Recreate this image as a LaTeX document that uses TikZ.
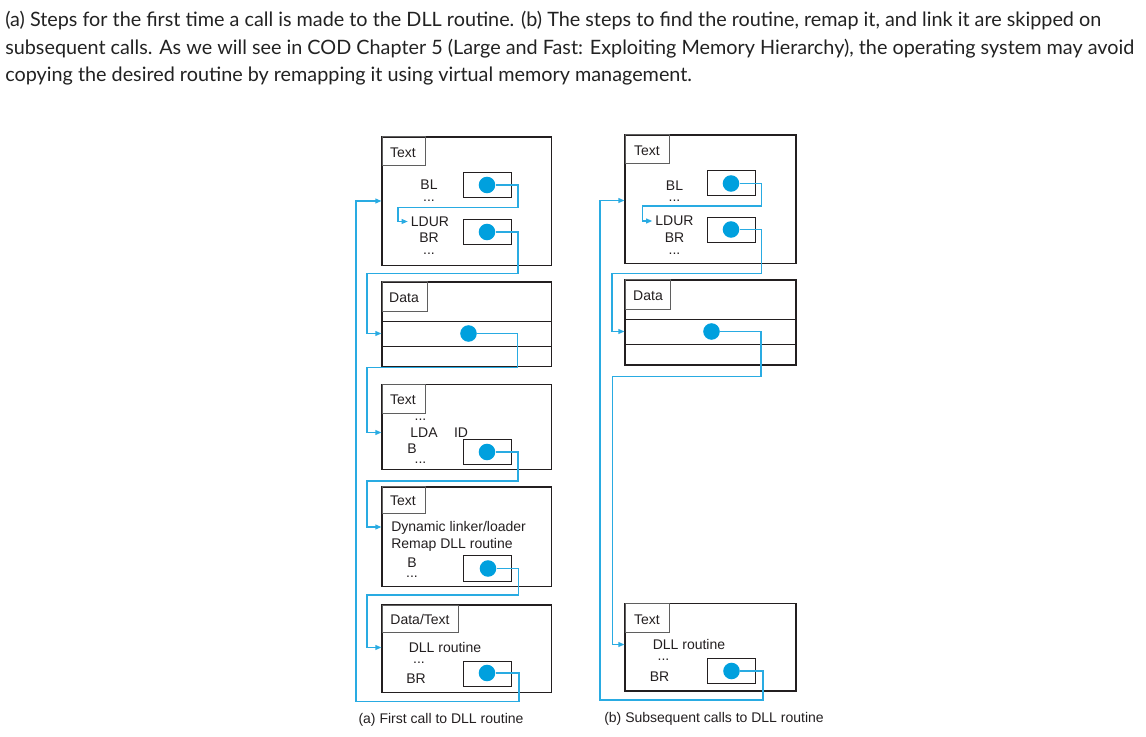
\documentclass[tikz,border=0pt]{standalone}
\usepackage{fontspec}
\setmainfont{Liberation Sans}
\newfontfamily\capfont{Lato}
\usetikzlibrary{arrows.meta,fit}
\definecolor{wireblue}{RGB}{41,171,226}
\definecolor{dotblue}{RGB}{0,160,222}
\definecolor{lblgray}{RGB}{95,95,95}
\definecolor{boxblack}{RGB}{35,31,32}
\definecolor{captext}{RGB}{34,34,34}
\begin{document}
\begin{tikzpicture}[x=0.75pt,y=-0.75pt,
  mainbox/.style={draw=boxblack, line width=0.85pt, inner sep=0pt},
  lblbox/.style={draw=lblgray, line width=0.75pt, inner sep=0pt},
  smallbox/.style={draw=boxblack, line width=0.75pt, inner sep=0pt},
  seprule/.style={draw=boxblack, line width=0.85pt},
  bluedot/.style={circle, fill=dotblue, minimum size=12.4pt, inner sep=0pt},
  ctext/.style={font=\fontsize{10.5}{12}\selectfont, inner sep=0pt, text height=7.5pt, text depth=0pt, text=boxblack},
  dtext/.style={font=\fontsize{10.5}{12}\selectfont, inner sep=0pt, anchor=base, text height=1.5pt, text depth=0pt, text=boxblack},
  wire/.style={draw=wireblue, line width=0.9pt},
  arr/.style={wire, -{Triangle[length=4.5pt,width=3.6pt]}},
  subcap/.style={font=\fontsize{10.5}{12}\selectfont, inner sep=0pt, text height=7.5pt, text depth=2pt, text=boxblack},
  topcap/.style={font=\capfont\fontsize{14.85}{17}\selectfont, inner sep=0pt, anchor=base west, text=captext}
]
\useasboundingbox (0,0) rectangle (1146,737);

% ---------- top caption ----------
\node[topcap] (c1) at (5,27) {(a) Steps for the first time a call is made to the DLL routine. (b) The steps to find the routine, remap it, and link it are skipped on};
\node[topcap] (c2) at (5,55) {subsequent calls. As we will see in COD Chapter 5 (Large and Fast: Exploiting Memory Hierarchy), the operating system may avoid};
\node[topcap] (c3) at (5,82) {copying the desired routine by remapping it using virtual memory management.};

% ================= LEFT (a) =================
\node[mainbox, fit={(382,137) (551.5,265.5)}] (aT1) {};
\node[lblbox, fit={(382,137) (425,166)}] (aT1l) {};
\node[ctext] (aT1t) at (403,152.5) {Text};
\node[ctext] (aBL) at (429,185) {BL};
\node[dtext] (aT1d1) at (429,202) {...};
\node[ctext] (aLDUR) at (430,221.5) {LDUR};
\node[ctext] (aBR) at (429,238) {BR};
\node[dtext] (aT1d2) at (429,255) {...};
\node[smallbox, fit={(463,172.5) (511,198)}] (aS1) {};
\node[bluedot] (aP1) at (487,185) {};
\node[smallbox, fit={(463,219.5) (511,245)}] (aS2) {};
\node[bluedot] (aP2) at (487,232) {};

\node[mainbox, fit={(382,282) (551.5,366.5)}] (aD) {};
\node[lblbox, fit={(382,282) (427,312)}] (aDl) {};
\node[ctext] (aDt) at (404,297.5) {Data};
\draw[seprule] (aD.west |- 0,321.7) -- (aD.east |- 0,321.7);
\draw[seprule] (aD.west |- 0,346.7) -- (aD.east |- 0,346.7);
\node[bluedot] (aP3) at (468.5,333.5) {};

\node[mainbox, fit={(382,384.5) (551.5,469.5)}] (aT2) {};
\node[lblbox, fit={(382,384.5) (425,414)}] (aT2l) {};
\node[ctext] (aT2t) at (403,400) {Text};
\node[dtext] (aT2d1) at (420.5,420.5) {...};
\node[ctext] (aLDA) at (424,432.5) {LDA};
\node[ctext] (aID) at (461,432.5) {ID};
\node[ctext] (aB1) at (412,448.5) {B};
\node[dtext] (aT2d2) at (420.5,463.5) {...};
\node[smallbox, fit={(463,439.5) (511,464.5)}] (aS3) {};
\node[bluedot] (aP4) at (487,452) {};

\node[mainbox, fit={(382,487) (551.5,586.5)}] (aT3) {};
\node[lblbox, fit={(382,487) (425,514)}] (aT3l) {};
\node[ctext] (aT3t) at (403,501) {Text};
\node[ctext, anchor=west] (aDyn) at (391,527) {Dynamic linker/loader};
\node[ctext, anchor=west] (aRemap) at (391,543.5) {Remap DLL routine};
\node[ctext] (aB2) at (412,562) {B};
\node[dtext] (aT3d) at (412,577) {...};
\node[smallbox, fit={(463.5,556) (511.5,581)}] (aS4) {};
\node[bluedot] (aP5) at (488,568.5) {};

\node[mainbox, fit={(382,605) (551.5,692.5)}] (aDT) {};
\node[lblbox, fit={(382,605) (458,632.5)}] (aDTl) {};
\node[ctext] (aDTt) at (420,619) {Data/Text};
\node[ctext] (aDLL) at (445,647.5) {DLL routine};
\node[dtext] (aDTd) at (419,663) {...};
\node[ctext] (aBR2) at (416,678.5) {BR};
\node[smallbox, fit={(463.5,661) (511.5,686)}] (aS5) {};
\node[bluedot] (aP6) at (487,673) {};

\node[subcap] (aCap) at (441,719.5) {(a) First call to DLL routine};

\draw[arr] (aP1.east) -- (518,185) -- (518,207.5) -- (398,207.5) -- (398,221.5) -- ([xshift=-2.2pt]aLDUR.west);
\draw[arr] (aP2.east) -- (518,232) -- (518,273.5) -- (367,273.5) -- (367,333.5) -- (aD.west |- 0,333.5);
\draw[arr] (aP3.east) -- (517.5,333.5) -- (517.5,367.5) -- (367,367.5) -- (367,432.5) -- (aT2.west |- 0,432.5);
\draw[arr] (aP4.east) -- (518,452) -- (518,481) -- (367,481) -- (367,527) -- (aT3.west |- 0,527);
\draw[arr] (aP5.east) -- (518.5,568.5) -- (518.5,595) -- (367,595) -- (367,647.5) -- (aDT.west |- 0,647.5);
\draw[arr] (aP6.east) -- (519,673) -- (519,701.5) -- (356,701.5) -- (356,201) -- (aT1.west |- 0,201);

% ================= RIGHT (b) =================
\node[mainbox, fit={(625,135) (796,263.5)}] (bT1) {};
\node[lblbox, fit={(625,135) (669,164)}] (bT1l) {};
\node[ctext] (bT1t) at (647,151) {Text};
\node[ctext] (bBL) at (674.5,185.5) {BL};
\node[dtext] (bT1d1) at (674.5,202) {...};
\node[ctext] (bLDUR) at (674.5,221) {LDUR};
\node[ctext] (bBR) at (674.5,238) {BR};
\node[dtext] (bT1d2) at (674.5,254.5) {...};
\node[smallbox, fit={(707.5,170.5) (755,196)}] (bS1) {};
\node[bluedot] (bP1) at (731,183.5) {};
\node[smallbox, fit={(707.5,217.5) (755,242.5)}] (bS2) {};
\node[bluedot] (bP2) at (731,229.5) {};

\node[mainbox, fit={(625,280) (796,365)}] (bD) {};
\node[lblbox, fit={(625,280) (670,309.5)}] (bDl) {};
\node[ctext] (bDt) at (648,296) {Data};
\draw[seprule] (bD.west |- 0,319.5) -- (bD.east |- 0,319.5);
\draw[seprule] (bD.west |- 0,344.5) -- (bD.east |- 0,344.5);
\node[bluedot] (bP3) at (711.5,331.5) {};

\node[mainbox, fit={(625,603.5) (796,691)}] (bT2) {};
\node[lblbox, fit={(625,603.5) (669,632.5)}] (bT2l) {};
\node[ctext] (bT2t) at (647,619) {Text};
\node[ctext] (bDLL) at (689,644.5) {DLL routine};
\node[dtext] (bT2d) at (663.5,660) {...};
\node[ctext] (bBR2) at (659.5,676) {BR};
\node[smallbox, fit={(707.5,658.5) (755.5,683.5)}] (bS3) {};
\node[bluedot] (bP4) at (731.5,671) {};

\node[subcap] (bCap) at (714,719) {(b) Subsequent calls to DLL routine};

\draw[arr] (bP1.east) -- (761.5,183.5) -- (761.5,206) -- (642.5,206) -- (642.5,221) -- ([xshift=-2.2pt]bLDUR.west);
\draw[arr] (bP2.east) -- (761.5,229.5) -- (761.5,273.5) -- (612,273.5) -- (612,331.5) -- (bD.west |- 0,331.5);
\draw[arr] (bP3.east) -- (761,331.5) -- (761,376.5) -- (612.5,376.5) -- (612.5,644.5) -- (bT2.west |- 0,644.5);
\draw[arr] (bP4.east) -- (763,671) -- (763,700) -- (600,700) -- (600,200.5) -- (bT1.west |- 0,200.5);
\end{tikzpicture}
\end{document}
